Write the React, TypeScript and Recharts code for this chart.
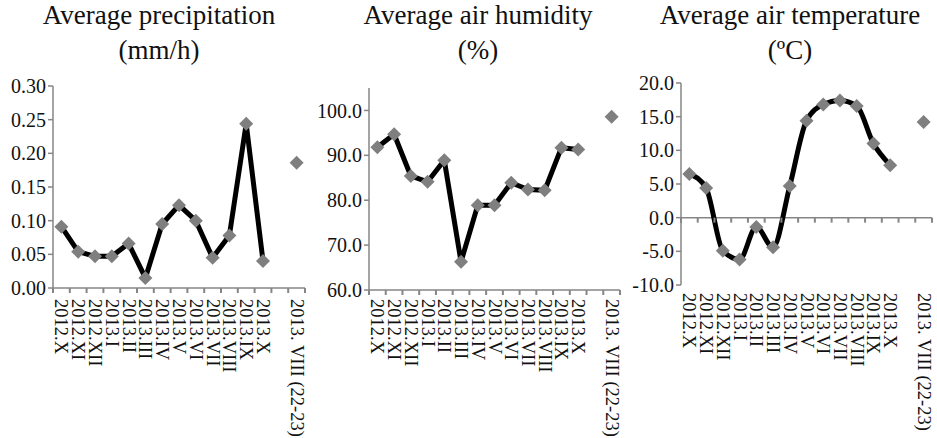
import { ComposedChart, Line, XAxis, YAxis, ReferenceLine } from "recharts";

const categories = [
  "2012.X",
  "2012.XI",
  "2012.XII",
  "2013.I",
  "2013.II",
  "2013.III",
  "2013.IV",
  "2013.V",
  "2013.VI",
  "2013.VII",
  "2013.VIII",
  "2013.IX",
  "2013.X",
  "",
  "2013. VIII (22-23)",
];

const precipitation = [0.091, 0.054, 0.047, 0.047, 0.066, 0.015, 0.095, 0.123, 0.1, 0.045, 0.078, 0.244, 0.04, null, 0.186];
const humidity = [91.8, 94.7, 85.4, 84.1, 88.9, 66.3, 78.9, 78.9, 83.9, 82.4, 82.2, 91.7, 91.3, null, 98.6];
const temperature = [6.5, 4.4, -4.9, -6.2, -1.4, -4.4, 4.7, 14.4, 16.8, 17.4, 16.6, 11.0, 7.8, null, 14.2];

const precipTicks = [0, 0.05, 0.1, 0.15, 0.2, 0.25, 0.3];
const humidityTicks = [60, 70, 80, 90, 100];
const tempTicks = [-10, -5, 0, 5, 10, 15, 20];

// category boundaries (tick marks) and centres (labels)
const bounds = categories.map((_, i) => i).concat([categories.length]);
const centres = categories.map((_, i) => i + 0.5);

const FONT = "'Liberation Serif', 'Times New Roman', serif";
const AXIS = "#868686";
const MARK = "#7f7f7f";
const H = 378;

const rows = (vals: (number | null)[]) => vals.map((v, i) => ({ pos: i + 0.5, v }));
const tickRows = (base: number) => bounds.map((b) => ({ pos: b, v: base }));

const Diamond = (p: any) => {
  const { cx, cy, payload } = p;
  if (payload == null || payload.v == null || cx == null || cy == null) return null;
  const r = 7;
  return (
    <path
      key={`d-${cx}`}
      d={`M${cx},${cy - r} L${cx + r},${cy} L${cx},${cy + r} L${cx - r},${cy} Z`}
      fill={MARK}
    />
  );
};

// small downward tick mark on the category axis
const TickMark = (p: any) => {
  const { cx, cy } = p;
  if (cx == null || cy == null) return null;
  return <line key={`t-${cx}`} x1={cx} y1={cy} x2={cx} y2={cy + 5} stroke={AXIS} strokeWidth={2} />;
};

const LabelTick = (p: any) => {
  const { x, y, payload } = p;
  const name = categories[Math.floor(payload.value)] ?? "";
  return (
    <text
      transform={`translate(${x},${y}) rotate(90)`}
      textAnchor="start"
      dominantBaseline="central"
      fontSize={18.5}
      fontFamily={FONT}
      fill="#111"
    >
      {name}
    </text>
  );
};

const yTick = { fill: "#111", fontSize: 20, fontFamily: FONT };

function Title({ lines, cx }: { lines: string[]; cx: number }) {
  return (
    <div
      style={{
        position: "absolute",
        left: cx - 160,
        top: -2,
        width: 320,
        textAlign: "center",
        fontFamily: FONT,
        fontSize: 27,
        lineHeight: "35px",
        color: "#111",
      }}
    >
      {lines.map((l) => (
        <div key={l}>{l}</div>
      ))}
    </div>
  );
}

function Panel({
  values,
  domain,
  ticks,
  decimals,
  yWidth,
  width,
  top,
  right,
  labelGap,
  axisAt,
  curve,
}: {
  values: (number | null)[];
  domain: [number, number];
  ticks: number[];
  decimals: number;
  yWidth: number;
  width: number;
  top: number;
  right: number;
  labelGap: number;
  axisAt: number;
  curve: "linear" | "monotone";
}) {
  const atBottom = axisAt === domain[0];
  return (
    <ComposedChart width={width} height={H} data={rows(values)} margin={{ top, right, left: 0, bottom: 0 }}>
      <XAxis
        type="number"
        dataKey="pos"
        domain={[0, 15]}
        ticks={centres}
        interval={0}
        axisLine={atBottom ? { stroke: AXIS, strokeWidth: 1.5 } : false}
        tickLine={false}
        tickSize={0}
        tickMargin={labelGap}
        height={H - top - 202}
        tick={LabelTick}
      />
      <YAxis
        domain={domain}
        ticks={ticks}
        interval={0}
        tickFormatter={(v: number) => v.toFixed(decimals)}
        width={yWidth}
        tickSize={5}
        tickMargin={2}
        tick={yTick}
        stroke={AXIS}
        strokeWidth={1.5}
      />
      {!atBottom && <ReferenceLine y={axisAt} stroke={AXIS} strokeWidth={1.5} />}
      <Line
        data={tickRows(axisAt)}
        dataKey="v"
        stroke="transparent"
        dot={TickMark}
        activeDot={false}
        isAnimationActive={false}
      />
      <Line
        dataKey="v"
        type={curve}
        stroke="#000"
        strokeWidth={5}
        strokeLinejoin="round"
        dot={Diamond}
        activeDot={false}
        isAnimationActive={false}
      />
    </ComposedChart>
  );
}

export default function App() {
  return (
    <div style={{ position: "absolute", left: 0, top: 0, width: 937, height: 438, background: "#fff", overflow: "hidden" }}>
      <Title lines={["Average precipitation", "(mm/h)"]} cx={159} />
      <Title lines={["Average air humidity", "(%)"]} cx={478} />
      <Title lines={["Average air temperature", "(ºC)"]} cx={790} />
      <div style={{ position: "absolute", left: 0, top: 60 }}>
        <Panel
          values={precipitation}
          domain={[0, 0.3]}
          ticks={precipTicks}
          decimals={2}
          yWidth={53}
          width={312}
          top={26}
          right={7}
          labelGap={11}
          axisAt={0}
          curve="linear"
        />
      </div>
      <div style={{ position: "absolute", left: 312, top: 60 }}>
        <Panel
          values={humidity}
          domain={[60, 105]}
          ticks={humidityTicks}
          decimals={1}
          yWidth={57}
          width={312}
          top={28}
          right={4}
          labelGap={9}
          axisAt={60}
          curve="linear"
        />
      </div>
      <div style={{ position: "absolute", left: 624, top: 60 }}>
        <Panel
          values={temperature}
          domain={[-10, 20]}
          ticks={tempTicks}
          decimals={1}
          yWidth={57}
          width={313}
          top={23}
          right={5}
          labelGap={8}
          axisAt={0}
          curve="monotone"
        />
      </div>
    </div>
  );
}
